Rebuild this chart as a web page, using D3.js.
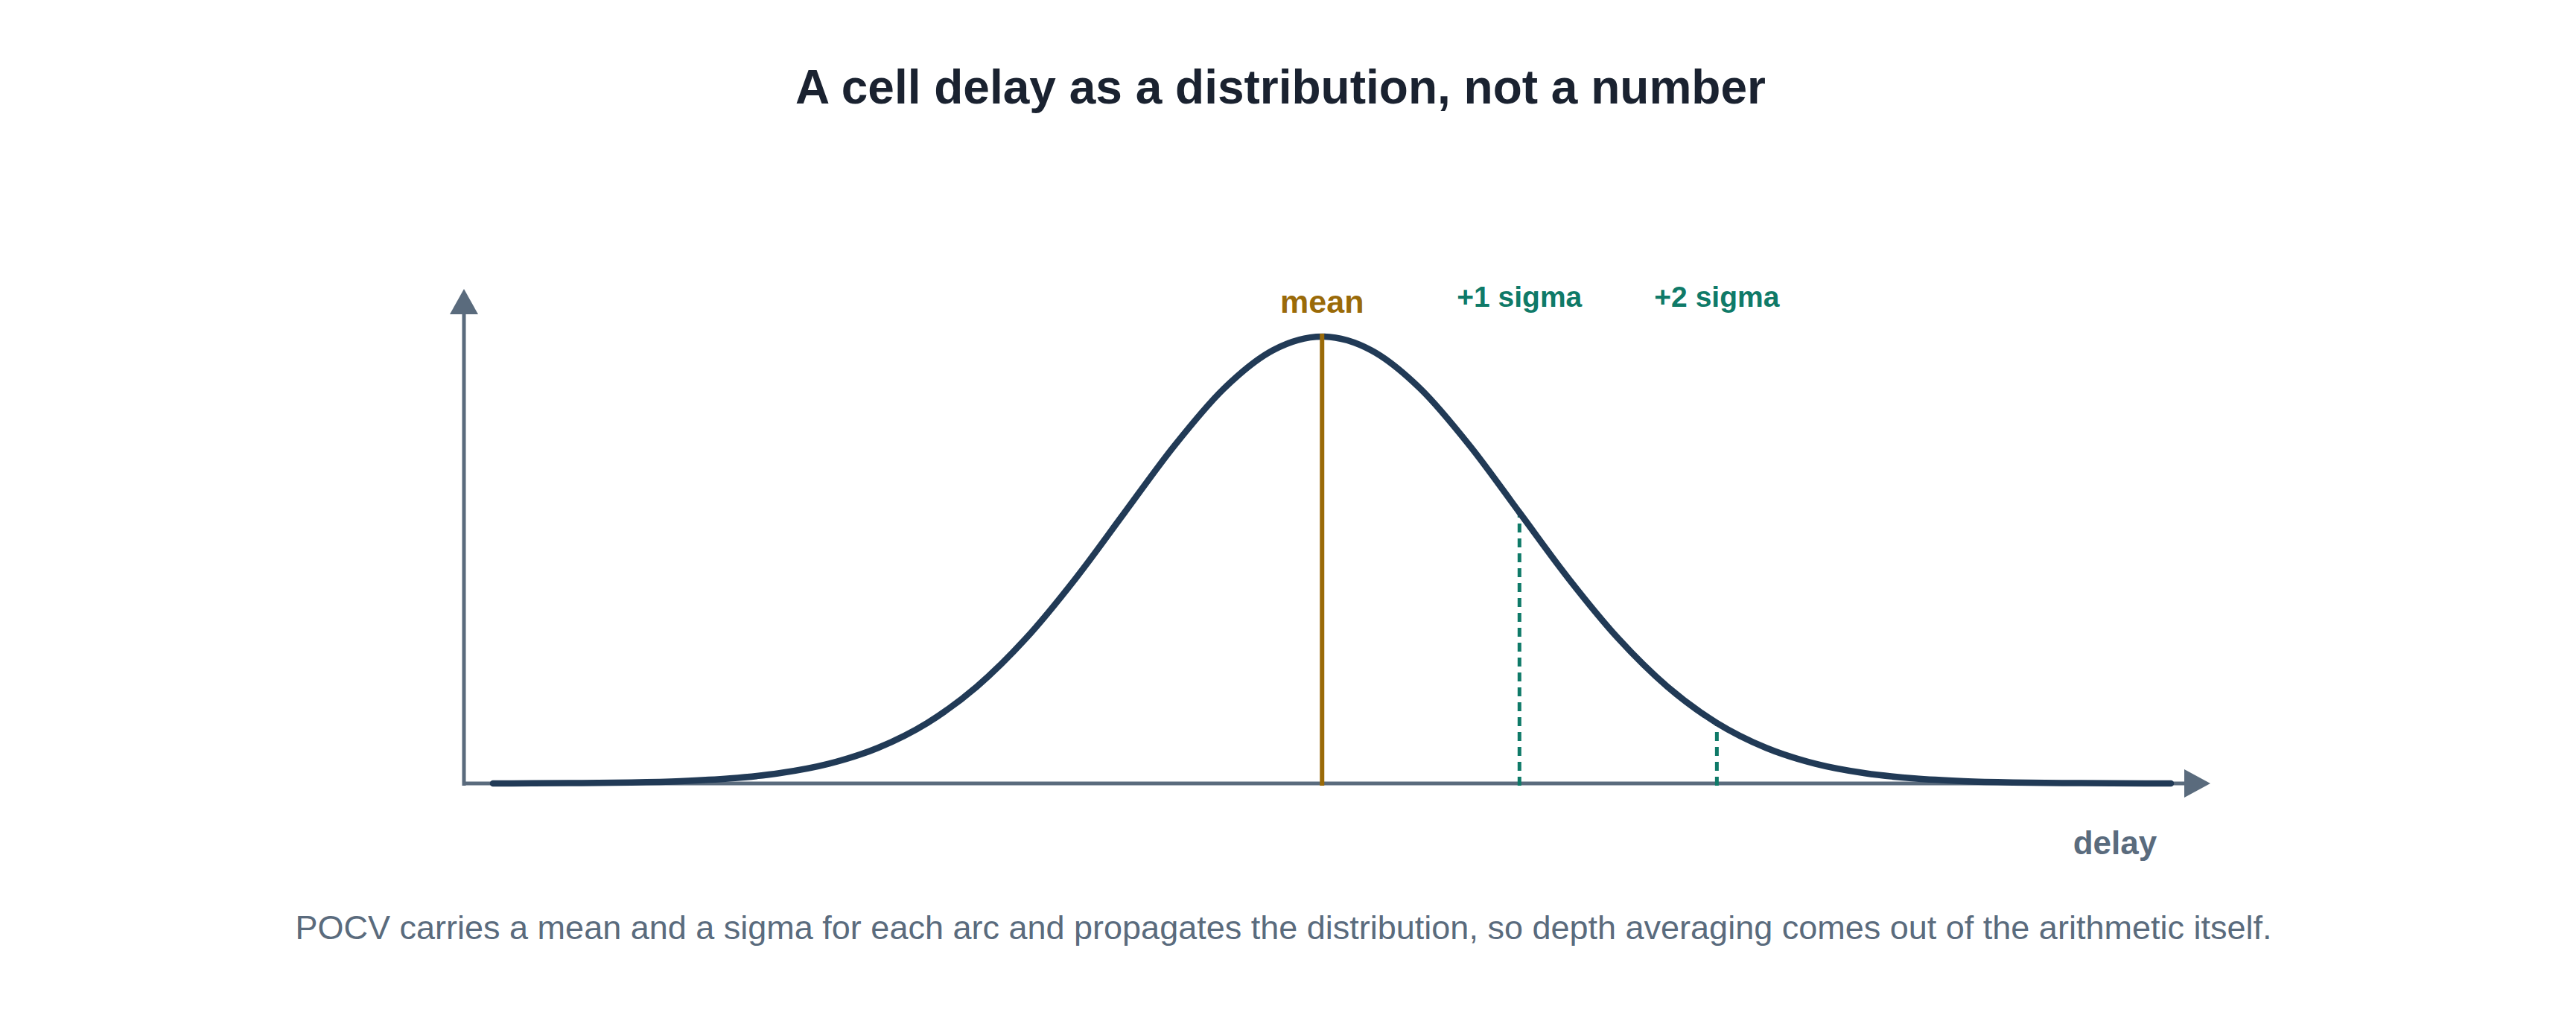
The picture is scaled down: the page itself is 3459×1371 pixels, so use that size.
<!DOCTYPE html>
<html>
<head>
<meta charset="utf-8">
<script src="https://cdn.jsdelivr.net/npm/d3@7"></script>
<style>
  body { margin: 0; background: #ffffff; }
  text { font-family: "Liberation Sans", Arial, sans-serif; }
</style>
</head>
<body>
<div id="chart-area"></div>
<script>
// delay offsets in sigma units, and relative density
const offsets = [-4.2, -4, -3.75, -3.5, -3.25, -3, -2.75, -2.5, -2.25, -2, -1.75, -1.5, -1.25, -1, -0.75, -0.5, -0.25, 0,
  0.25, 0.5, 0.75, 1, 1.25, 1.5, 1.75, 2, 2.25, 2.5, 2.75, 3, 3.25, 3.5, 3.75, 4, 4.3];
const density = [0.0001, 0.0003, 0.0009, 0.0022, 0.0051, 0.0111, 0.0228, 0.0439, 0.0796, 0.1353, 0.2163, 0.3247, 0.4578, 0.6065, 0.7548, 0.8825, 0.9692, 1,
  0.9692, 0.8825, 0.7548, 0.6065, 0.4578, 0.3247, 0.2163, 0.1353, 0.0796, 0.0439, 0.0228, 0.0111, 0.0051, 0.0022, 0.0009, 0.0003, 0.0001];
const markers = [
  { label: "+1 sigma", at: 1, value: 0.6065 },
  { label: "+2 sigma", at: 2, value: 0.1353 },
];

const W = 3459, H = 1371;
const svg = d3.select("#chart-area").append("svg").attr("width", W).attr("height", H);

const x = d3.scaleLinear().domain([-4.2, 4.3]).range([662, 2915]);
const y = d3.scaleLinear().domain([0, 1]).range([1055, 455]);
const axisColor = "#5a6b7d";
const teal = "#0f7a68";
const gold = "#9a6a08";

svg.append("text")
  .attr("x", W / 2 - 10).attr("y", 139)
  .attr("text-anchor", "middle")
  .attr("font-size", 64).attr("font-weight", "bold")
  .attr("fill", "#1a2230")
  .text("A cell delay as a distribution, not a number");

// axes
svg.append("line").attr("x1", 623).attr("x2", 623).attr("y1", 1055).attr("y2", 420)
  .attr("stroke", axisColor).attr("stroke-width", 5);
svg.append("path").attr("d", "M623,388 L604,422 L642,422 Z").attr("fill", axisColor);
svg.append("line").attr("x1", 621).attr("x2", 2940).attr("y1", 1052).attr("y2", 1052)
  .attr("stroke", axisColor).attr("stroke-width", 5);
svg.append("path").attr("d", "M2968,1052 L2933,1033 L2933,1071 Z").attr("fill", axisColor);

svg.append("text").attr("x", 2840).attr("y", 1147).attr("text-anchor", "middle")
  .attr("font-size", 44).attr("font-weight", "bold").attr("fill", axisColor).text("delay");

// sigma markers
markers.forEach((m) => {
  svg.append("line")
    .attr("x1", x(m.at)).attr("x2", x(m.at))
    .attr("y1", y(0)).attr("y2", y(m.value))
    .attr("stroke", teal).attr("stroke-width", 5).attr("stroke-dasharray", "12,8");
  svg.append("text").attr("x", x(m.at)).attr("y", 412).attr("text-anchor", "middle")
    .attr("font-size", 39).attr("font-weight", "bold").attr("fill", teal).text(m.label);
});

// curve
const pts = offsets.map((o, i) => [o, density[i]]);
svg.append("path")
  .datum(pts)
  .attr("fill", "none")
  .attr("stroke", "#213a56")
  .attr("stroke-width", 8.5)
  .attr("stroke-linecap", "round")
  .attr("d", d3.line().x((d) => x(d[0])).y((d) => y(d[1]) - 3).curve(d3.curveMonotoneX));

// mean
svg.append("line").attr("x1", x(0)).attr("x2", x(0)).attr("y1", y(0)).attr("y2", y(1) - 7)
  .attr("stroke", gold).attr("stroke-width", 6);
svg.append("text").attr("x", x(0)).attr("y", 420).attr("text-anchor", "middle")
  .attr("font-size", 43).attr("font-weight", "bold").attr("fill", gold).text("mean");

svg.append("text").attr("x", W / 2 - 6).attr("y", 1261).attr("text-anchor", "middle")
  .attr("font-size", 45).attr("fill", axisColor)
  .text("POCV carries a mean and a sigma for each arc and propagates the distribution, so depth averaging comes out of the arithmetic itself.");
</script>
</body>
</html>
